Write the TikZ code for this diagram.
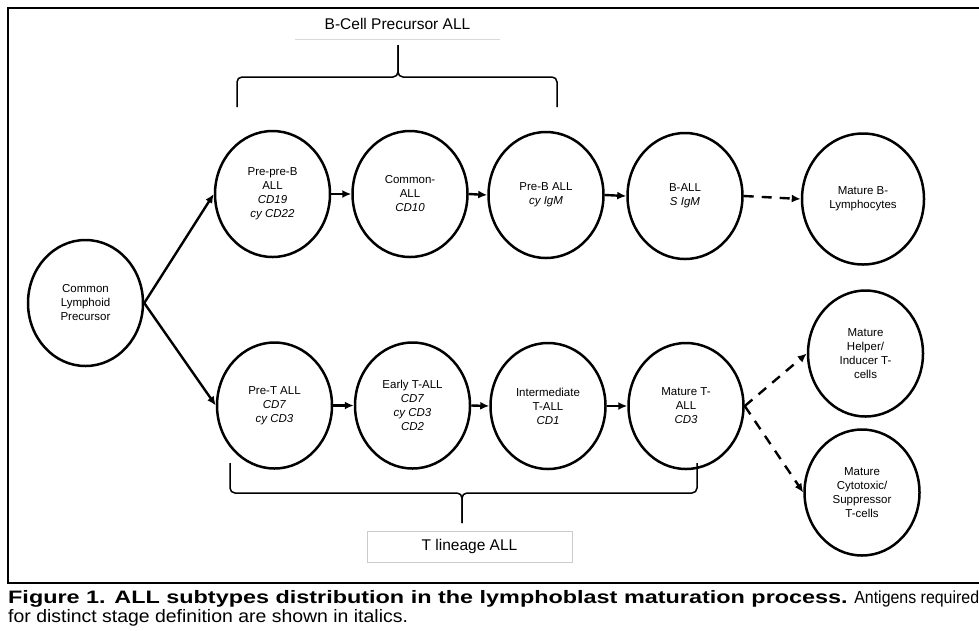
\documentclass[tikz,border=0pt]{standalone}
\usepackage{fontspec}
\setmainfont{Liberation Sans}
\newfontfamily\capboldfont{Liberation Sans Bold}[FakeStretch=1.3]
\newfontfamily\capfont{Liberation Sans}[FakeStretch=1.08]
\newfontfamily\capnarrowfont{Liberation Sans}[FakeStretch=0.91]
\usetikzlibrary{arrows.meta,shapes.geometric}

\tikzset{
  cell/.style={draw, ellipse, line width=2.5pt, minimum width=115pt, minimum height=126pt,
    inner sep=0pt, align=center, font=\fontsize{11.5}{14}\selectfont},
  develop/.style={line width=2.4pt, -{Latex[length=9pt,width=8pt]}},
  mature/.style={develop, dash pattern=on 10pt off 8pt},
  brace/.style={line width=1.5pt, rounded corners=5pt},
  group/.style={inner sep=0pt, minimum width=205pt, minimum height=31pt,
    font=\fontsize{15.5}{18}\selectfont},
}

\begin{document}
\begin{tikzpicture}[x=1pt,y=-1pt]
	\useasboundingbox (0,0) rectangle (979,630);
	\draw[line width=2.2pt] (985,8) -- (8,8) -- (8,583) -- (985,583);
	
	\node[cell] (clp) at (85.5,303) {Common\\Lymphoid\\Precursor};
	
	\node[cell] (prepreb) at (272.5,194) {Pre-pre-B\\ALL\\\textit{CD19}\\\textit{cy CD22}};
	\node[cell] (comall) at (410,194) {Common-\\ALL\\\textit{CD10}};
	\node[cell] (preb) at (546,195) {Pre-B ALL\\\textit{cy IgM}};
	\node[cell] (ball) at (685,196) {B-ALL\\\textit{S IgM}};
	\node[cell, minimum width=122pt, minimum height=131pt] (matb) at (863,199) {Mature B-\\Lymphocytes};
	
	\node[cell] (pret) at (274.5,405.5) {Pre-T ALL\\\textit{CD7}\\\textit{cy CD3}};
	\node[cell] (earlyt) at (412.5,405.5) {Early T-ALL\\\textit{CD7}\\\textit{cy CD3}\\\textit{CD2}};
	\node[cell] (intert) at (548,406) {Intermediate\\T-ALL\\\textit{CD1}};
	\node[cell] (matt) at (686,406) {Mature T-\\ALL\\\textit{CD3}};
	\node[cell] (helper) at (865.5,353.5) {Mature\\Helper/\\Inducer T-\\cells};
	\node[cell] (cyto) at (862,492.5) {Mature\\Cytotoxic/\\Suppressor\\T-cells};
	
	\draw[develop] (clp.east) -- (prepreb.west);
	\draw[develop] (clp.east) -- (pret.west);
	\draw[develop] (prepreb.east) -- (comall.west);
	\draw[develop] (comall.east) -- (preb.west);
	\draw[develop] (preb.east) -- (ball.west);
	\draw[mature] (ball.east) -- (matb.west);
	\draw[develop] (pret.east) -- (earlyt.west);
	\draw[develop] (earlyt.east) -- (intert.west);
	\draw[develop] (intert.east) -- (matt.west);
	\draw[mature] (matt.east) -- (helper.west);
	\draw[mature] (matt.east) -- (cyto.west);
	
	% groups
	\node[group] (blabel) at (397.5,24) {B-Cell Precursor ALL};
	\draw[gray!30, line width=0.8pt] (blabel.south west) -- (blabel.south east);
	\draw[brace] (237,107) |- (398,77) -- (398,45);
	\draw[brace] (557,107) |- (398,77) -- (398,45);
	
	\node[group, draw=gray!40, line width=0.8pt] (tlabel) at (469.5,546.5) {T lineage ALL};
	\draw[brace] (230,463) |- (462,493) -- (462,523);
	\draw[brace] (697,463) |- (462,493) -- (462,523);
	
	\node[anchor=north west, align=left, inner sep=0pt, font=\fontsize{18}{19}\selectfont] (caption) at (8,590)
		{{\capboldfont Figure 1. ALL subtypes distribution in the lymphoblast maturation process.} {\capnarrowfont\fontsize{17.5}{19}\selectfont Antigens required}\\
		{\capfont for distinct stage definition are shown in italics.}};
\end{tikzpicture}
\end{document}
